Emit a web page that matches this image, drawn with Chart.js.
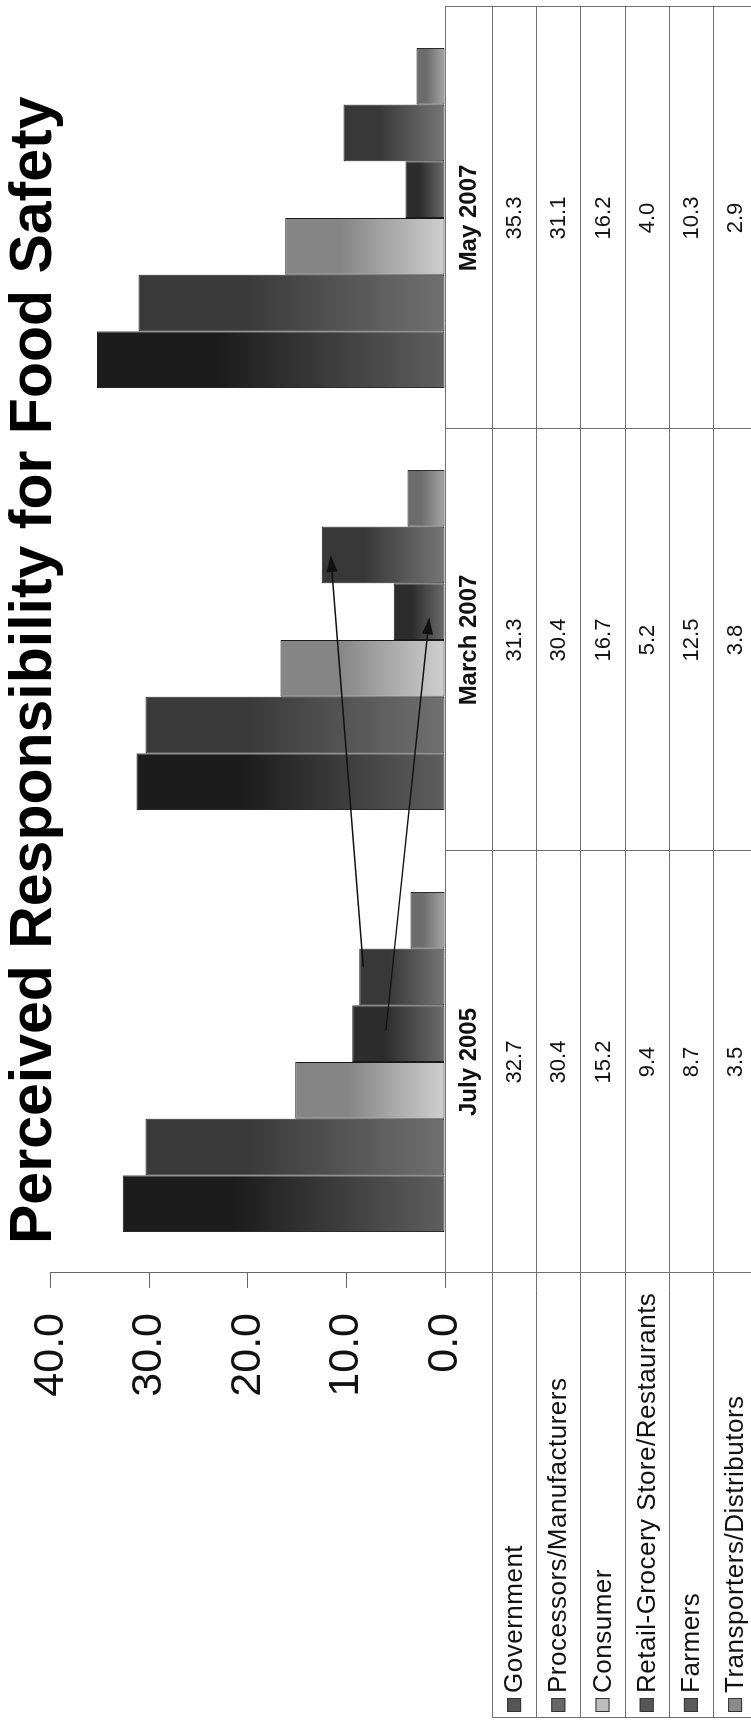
<!DOCTYPE html>
<html>
<head>
<meta charset="utf-8">
<script src="https://cdn.jsdelivr.net/npm/chart.js@4.4.1/dist/chart.umd.min.js"></script>
<style>
  html, body { margin: 0; padding: 0; background: #fff; overflow: hidden; width: 751px; height: 1726px; }
  /* the chart is laid out landscape and turned a quarter turn counter-clockwise onto the page */
  #wrap { position: absolute; left: 0; top: 0; width: 1726px; height: 751px;
          transform-origin: 0 0; transform: translate(0, 1726px) rotate(-90deg); background: #fff; }
  canvas { display: block; }
</style>
</head>
<body>
<div id="wrap"><canvas id="chart" width="1726" height="751"></canvas></div>
<script>
// ---- data ----
const chartTitle = 'Perceived Responsibility for Food Safety';
const periods = ['July 2005', 'March 2007', 'May 2007'];
const seriesNames = ['Government', 'Processors/Manufacturers', 'Consumer',
                     'Retail-Grocery Store/Restaurants', 'Farmers', 'Transporters/Distributors'];
const government   = [32.7, 31.3, 35.3];
const processors   = [30.4, 30.4, 31.1];
const consumer     = [15.2, 16.7, 16.2];
const retail       = [9.4, 5.2, 4.0];
const farmers      = [8.7, 12.5, 10.3];
const transporters = [3.5, 3.8, 2.9];
const valueTicks   = [0, 10, 20, 30, 40];

// change arrows: series, period and value at each end (shift = fraction of bar width off centre)
const arrows = [
  { series: 4, from: { period: 0, value: 8.3, shift: 0.18 }, to: { period: 1, value: 11.6, shift: 0 } },
  { series: 3, from: { period: 0, value: 6.0, shift: 0.05 }, to: { period: 1, value: 1.6, shift: -0.1 } }
];

// ---- styling ----
const FONT = '"Liberation Sans", Arial, Helvetica, sans-serif';
// each bar is shaded from its top (dark) to the baseline (lighter)
const shades = [
  ['#1c1c1c', '#5e5e5e'],
  ['#3a3a3a', '#707070'],
  ['#858585', '#cfcfcf'],
  ['#2c2c2c', '#6c6c6c'],
  ['#383838', '#767676'],
  ['#6c6c6c', '#a6a6a6']
];
const swatches = ['#555555', '#686868', '#bdbdbd', '#575757', '#5a5a5a', '#8a8a8a'];
const seriesValues = [government, processors, consumer, retail, farmers, transporters];

const TABLE = { headerH: 47, rowH: 44.2, legendLeft: 8, lineColor: '#707070' };

function barFill(i) {
  return (c) => {
    const ch = c.chart, y = ch.scales && ch.scales.y;
    if (!y || !ch.chartArea || typeof c.raw !== 'number') return swatches[i];
    const top = y.getPixelForValue(c.raw), base = y.getPixelForValue(0);
    const g = ch.ctx.createLinearGradient(0, top, 0, base);
    g.addColorStop(0, shades[i][0]);
    g.addColorStop(0.35, shades[i][0]);
    g.addColorStop(1, shades[i][1]);
    return g;
  };
}

// title, data table with legend keys, and the change arrows
const decorations = {
  id: 'decorations',
  afterDatasetsDraw(chart) {
    const ctx = chart.ctx;
    const yS = chart.scales.y;
    ctx.save();
    ctx.strokeStyle = '#111';
    ctx.fillStyle = '#111';
    ctx.lineWidth = 1.4;
    arrows.forEach(a => {
      const meta = chart.getDatasetMeta(a.series);
      const pt = (end) => {
        const bar = meta.data[end.period];
        return { x: bar.x + end.shift * bar.width, y: yS.getPixelForValue(end.value) };
      };
      const p0 = pt(a.from), p1 = pt(a.to);
      const ang = Math.atan2(p1.y - p0.y, p1.x - p0.x);
      const headLen = 17, headW = 5.5;
      const bx = p1.x - headLen * Math.cos(ang), by = p1.y - headLen * Math.sin(ang);
      ctx.beginPath();
      ctx.moveTo(p0.x, p0.y);
      ctx.lineTo(bx, by);
      ctx.stroke();
      ctx.beginPath();
      ctx.moveTo(p1.x, p1.y);
      ctx.lineTo(bx + headW * Math.sin(ang), by - headW * Math.cos(ang));
      ctx.lineTo(bx - headW * Math.sin(ang), by + headW * Math.cos(ang));
      ctx.closePath();
      ctx.fill();
    });
    ctx.restore();
  },
  afterDraw(chart) {
    const ctx = chart.ctx;
    const area = chart.chartArea;
    const xS = chart.scales.x, yS = chart.scales.y;
    const base = yS.getPixelForValue(0);
    const headBottom = base + TABLE.headerH;
    const bottom = headBottom + TABLE.rowH * seriesNames.length;
    const colW = (area.right - area.left) / periods.length;

    ctx.save();
    // title
    ctx.fillStyle = '#000';
    ctx.font = 'bold 59px ' + FONT;
    ctx.textAlign = 'left';
    ctx.textBaseline = 'alphabetic';
    ctx.fillText(chartTitle, 482, 51);

    // table grid
    ctx.strokeStyle = TABLE.lineColor;
    ctx.lineWidth = 1;
    const hline = (x0, x1, y) => { ctx.beginPath(); ctx.moveTo(x0, Math.round(y) + 0.5); ctx.lineTo(x1, Math.round(y) + 0.5); ctx.stroke(); };
    const vline = (x, y0, y1) => { ctx.beginPath(); ctx.moveTo(Math.round(x) + 0.5, y0); ctx.lineTo(Math.round(x) + 0.5, y1); ctx.stroke(); };
    hline(area.left, area.right, base);
    for (let r = 0; r <= seriesNames.length; r++) hline(TABLE.legendLeft, area.right, headBottom + r * TABLE.rowH);
    vline(TABLE.legendLeft, headBottom, bottom);
    vline(area.left, base, bottom);
    for (let k = 1; k < periods.length; k++) vline(area.left + k * colW, base, bottom);
    vline(area.right, base, bottom);

    // period headers
    ctx.fillStyle = '#111';
    ctx.textAlign = 'center';
    ctx.textBaseline = 'middle';
    ctx.font = 'bold 24px ' + FONT;
    periods.forEach((p, i) => ctx.fillText(p, xS.getPixelForValue(i), (base + headBottom) / 2 + 1));

    // values
    ctx.font = '22px ' + FONT;
    seriesValues.forEach((vals, r) => {
      const cy = headBottom + (r + 0.5) * TABLE.rowH;
      vals.forEach((v, i) => ctx.fillText(v.toFixed(1), xS.getPixelForValue(i), cy + 1));
    });

    // legend keys
    ctx.textAlign = 'left';
    ctx.font = '26px ' + FONT;
    if ('letterSpacing' in ctx) ctx.letterSpacing = '0.5px';
    seriesNames.forEach((name, r) => {
      const cy = headBottom + (r + 0.5) * TABLE.rowH;
      ctx.fillStyle = swatches[r];
      ctx.fillRect(14, cy - 7, 14, 14);
      ctx.strokeStyle = '#333';
      ctx.strokeRect(14.5, cy - 6.5, 13, 13);
      ctx.fillStyle = '#111';
      ctx.fillText(name, 33, cy + 1);
    });
    ctx.restore();
  }
};

new Chart(document.getElementById('chart'), {
  type: 'bar',
  data: {
    labels: periods,
    datasets: seriesNames.map((name, i) => ({
      label: name,
      data: seriesValues[i],
      backgroundColor: barFill(i),
      borderColor: '#1a1a1a',
      borderWidth: 1,
      borderSkipped: false,
      categoryPercentage: 0.806,
      barPercentage: 1.0
    }))
  },
  options: {
    responsive: false,
    animation: false,
    events: [],
    layout: { padding: { top: 48, bottom: 306, left: 0, right: 7 } },
    plugins: { legend: { display: false }, tooltip: { enabled: false }, title: { display: false } },
    scales: {
      x: { display: false, offset: true },
      y: {
        min: valueTicks[0], max: valueTicks[valueTicks.length - 1],
        afterFit(s) { s.width = 453; },
        afterBuildTicks(s) { s.ticks = valueTicks.map(v => ({ value: v })); },
        ticks: {
          padding: 25, color: '#111',
          font: { family: FONT, size: 43 },
          callback: v => Number(v).toFixed(1)
        },
        grid: { drawOnChartArea: false, drawTicks: true, tickLength: 15, color: '#666', lineWidth: 1 },
        border: { display: true, color: '#666', width: 1 }
      }
    }
  },
  plugins: [decorations]
});
</script>
</body>
</html>
